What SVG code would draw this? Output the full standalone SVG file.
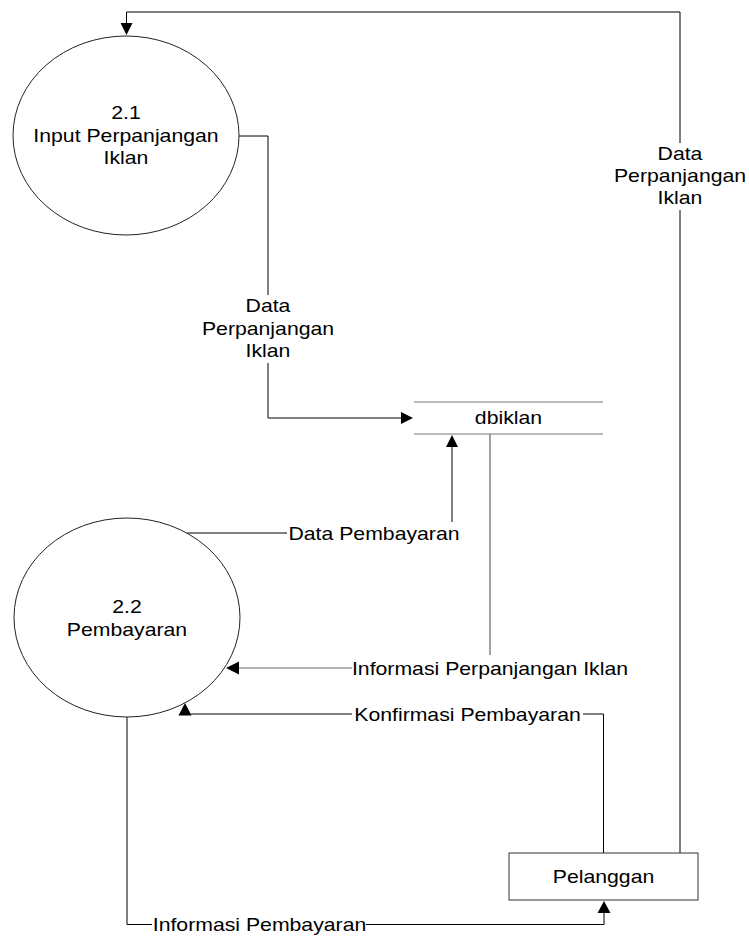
<svg xmlns="http://www.w3.org/2000/svg" width="749" height="936" viewBox="0 0 749 936">
<style>
text{font-family:"Liberation Sans",Arial,sans-serif;font-size:18px;fill:#000;text-anchor:middle}
.proc{fill:#fff;stroke:#222;stroke-width:1}
.ent{fill:#fff;stroke:#333;stroke-width:1}
.ds{stroke:#777;stroke-width:1.2;fill:none}
.ln{fill:none;stroke:#000;stroke-width:1}
.gl{fill:none;stroke:#666;stroke-width:1.2}
.ah{fill:#000;stroke:none}
</style>
<rect width="749" height="936" fill="#fff"/>
<g id="connectors">
  <!-- Pelanggan -> 2.1 -->
  <path class="ln" d="M680,853 V210 M680,143 V12 H126.5 V24"/>
  <polygon class="ah" points="126.5,35 120.5,23 132.5,23"/>
  <text transform="matrix(1.18 0 0 1 680 160)" x="0" y="0">Data</text>
  <text transform="matrix(1.18 0 0 1 680 182)" x="0" y="0">Perpanjangan</text>
  <text transform="matrix(1.18 0 0 1 680 204)" x="0" y="0">Iklan</text>
  <!-- 2.1 -> dbiklan -->
  <path class="ln" d="M239,136 H268 V295 M268,363 V418 H402"/>
  <polygon class="ah" points="413,418 401,412 401,424"/>
  <text transform="matrix(1.18 0 0 1 268 312)" x="0" y="0">Data</text>
  <text transform="matrix(1.18 0 0 1 268 334.5)" x="0" y="0">Perpanjangan</text>
  <text transform="matrix(1.18 0 0 1 268 357)" x="0" y="0">Iklan</text>
  <!-- 2.2 -> dbiklan -->
  <path class="ln" d="M187,533 H287 M452,522 V446"/>
  <polygon class="ah" points="452,435 446,447 458,447"/>
  <text transform="matrix(1.18 0 0 1 374 539.5)" x="0" y="0">Data Pembayaran</text>
  <!-- dbiklan -> 2.2 -->
  <path class="gl" d="M490,434 V655 M352,668 H239"/>
  <polygon class="ah" points="226,668 239,661.5 239,674.5"/>
  <text transform="matrix(1.18 0 0 1 490 674.5)" x="0" y="0">Informasi Perpanjangan Iklan</text>
  <!-- Pelanggan -> 2.2 -->
  <path class="ln" d="M603.5,853 V714 H583 M352,714 H191"/>
  <polygon class="ah" points="185,703 178.5,715.5 191.5,715.5"/>
  <text transform="matrix(1.18 0 0 1 467.5 720.5)" x="0" y="0">Konfirmasi Pembayaran</text>
  <!-- 2.2 -> Pelanggan -->
  <path class="ln" d="M127,717 V924.5 H152 M366,924.5 H604 V912"/>
  <polygon class="ah" points="604,901 597.5,913 610.5,913"/>
  <text transform="matrix(1.18 0 0 1 259.5 930.5)" x="0" y="0">Informasi Pembayaran</text>
</g>
<g id="p21">
  <ellipse class="proc" cx="126" cy="135.5" rx="113" ry="99.5"/>
  <text transform="matrix(1.18 0 0 1 126 119)" x="0" y="0">2.1</text>
  <text transform="matrix(1.18 0 0 1 126 141.5)" x="0" y="0">Input Perpanjangan</text>
  <text transform="matrix(1.18 0 0 1 126 164)" x="0" y="0">Iklan</text>
</g>
<g id="p22">
  <ellipse class="proc" cx="127" cy="617.5" rx="113" ry="99.5"/>
  <text transform="matrix(1.18 0 0 1 127 613)" x="0" y="0">2.2</text>
  <text transform="matrix(1.18 0 0 1 127 635.5)" x="0" y="0">Pembayaran</text>
</g>
<g id="dbiklan">
  <path class="ds" d="M414,402 H603 M414,434 H603"/>
  <text transform="matrix(1.18 0 0 1 508.5 424)" x="0" y="0">dbiklan</text>
</g>
<g id="pelanggan">
  <rect class="ent" x="509" y="853" width="189" height="47"/>
  <text transform="matrix(1.18 0 0 1 603.5 883)" x="0" y="0">Pelanggan</text>
</g>
</svg>
